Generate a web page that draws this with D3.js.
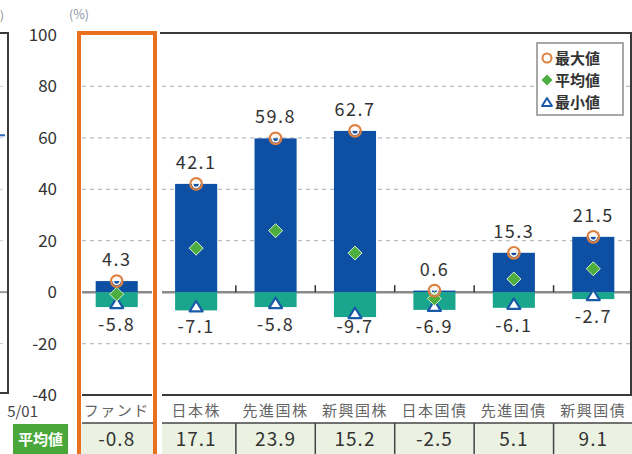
<!DOCTYPE html>
<html><head><meta charset="utf-8">
<script src="https://cdn.jsdelivr.net/npm/d3@7"></script>
<style>
html,body{margin:0;padding:0;background:#fff;}
svg{display:block;font-family:"Noto Sans CJK JP","Noto Sans",sans-serif;}
</style></head>
<body><svg id="c" width="632" height="454"></svg>
<script>
const categories = ["ファンド","日本株","先進国株","新興国株","日本国債","先進国債","新興国債"];
const maxValues = [4.3,42.1,59.8,62.7,0.6,15.3,21.5];
const minValues = [-5.8,-7.1,-5.8,-9.7,-6.9,-6.1,-2.7];
const avgValues = [-0.8,17.1,23.9,15.2,-2.5,5.1,9.1];
const yTicks = [-40,-20,0,20,40,60,80,100];
const gridTicks = [-20,20,40,60,80];
const legendLabels = ["最大値","平均値","最小値"];
const tableLabel = "平均値";
const unitLabel = "(%)";

const svg = d3.select("#c");
const FF = '"Noto Sans CJK JP","Noto Sans",sans-serif';
const C = {blue:"#0c4fa3", teal:"#1aa68c", orange:"#e8701e", maxC:"#dd8040", green:"#4cae3f", tri:"#1a5aa8", frame:"#3a3a3a"};

const y = d3.scaleLinear().domain([-40,100]).range([395,35]);
const x = d3.scaleBand().domain(categories).range([77,633]).paddingInner(0.47).paddingOuter(0.235);
const cx = d => x(d) + x.bandwidth()/2;
const step = x.step();

// left fragment of previous chart
const lf = svg.append("g");
lf.append("path").attr("d","M0,33H8V393H0").attr("fill","none").attr("stroke",C.frame).attr("stroke-width",2);
gridTicks.forEach(t=>lf.append("line").attr("x1",0).attr("x2",6).attr("y1",y(t)).attr("y2",y(t)).attr("stroke","#c8ccd2").attr("stroke-dasharray","3,3"));
lf.append("line").attr("x1",0).attr("x2",7).attr("y1",y(0)).attr("y2",y(0)).attr("stroke","#999").attr("stroke-width",2);
lf.append("line").attr("x1",0).attr("x2",5).attr("y1",y(61)).attr("y2",y(61)).attr("stroke","#2a6ab8").attr("stroke-width",2);
lf.append("text").attr("x",0).attr("y",20).attr("font-size",12).attr("fill","#888").text(")");
lf.append("text").attr("x",38).attr("y",417).attr("text-anchor","end").attr("font-size",15).attr("fill","#444").text("5/01");

// segments: fund column and main area
const segs = [[82,152],[162,631]];

// grid
gridTicks.forEach(t=>segs.forEach(s=>svg.append("line").attr("x1",s[0]).attr("x2",s[1]).attr("y1",y(t)).attr("y2",y(t))
  .attr("stroke","#b9c0c8").attr("stroke-width",1.2).attr("stroke-dasharray","4,4")));

// zero line
segs.forEach(s=>svg.append("line").attr("x1",s[0]).attr("x2",s[1]).attr("y1",y(0)).attr("y2",y(0)).attr("stroke","#8a8a8a").attr("stroke-width",2.5));
// ticks at boundaries
categories.slice(1,-1).forEach(c=>{
  const bx = x(c)+x.bandwidth()/2 + step/2;
  svg.append("line").attr("x1",bx).attr("x2",bx).attr("y1",y(0)-7).attr("y2",y(0)).attr("stroke","#333").attr("stroke-width",1.5);
});

// frame
svg.append("path").attr("d",`M160,33H631V${y(-40)}H162`).attr("fill","none").attr("stroke",C.frame).attr("stroke-width",2);
svg.append("line").attr("x1",82).attr("x2",152).attr("y1",y(-40)).attr("y2",y(-40)).attr("stroke",C.frame).attr("stroke-width",2);

// y axis
const ya = svg.append("g").attr("transform","translate(57,0)")
  .call(d3.axisLeft(y).tickValues(yTicks).tickSize(0).tickPadding(0).tickFormat(d=>String(d)));
ya.select(".domain").remove();
ya.selectAll("text").attr("font-size",17).attr("fill","#333").attr("font-family",FF);
svg.append("text").attr("x",69).attr("y",19).attr("font-size",12.5).attr("fill","#8a96a6").text(unitLabel);

// bars
const g = svg.append("g");
categories.forEach((c,i)=>{
  g.append("rect").attr("x",x(c)).attr("width",x.bandwidth()).attr("y",y(maxValues[i])).attr("height",y(0)-y(maxValues[i])).attr("fill",C.blue);
  g.append("rect").attr("x",x(c)).attr("width",x.bandwidth()).attr("y",y(0)).attr("height",y(minValues[i])-y(0)).attr("fill",C.teal);
});

// markers
function triPath(px,py,s){ return `M${px},${py-s*1.6}L${px+s},${py}L${px-s},${py}Z`; }
function diaPath(px,py,r){ return `M${px},${py-r}L${px+r},${py}L${px},${py+r}L${px-r},${py}Z`; }
categories.forEach((c,i)=>{
  const px = cx(c);
  g.append("path").attr("d",triPath(px,y(minValues[i])+1,6.5)).attr("fill","#fff").attr("stroke",C.tri).attr("stroke-width",2.2).attr("stroke-linejoin","round");
  g.append("path").attr("d",diaPath(px,y(avgValues[i]),7)).attr("fill",C.green).attr("stroke","#d9f0cf").attr("stroke-width",1);
  g.append("circle").attr("cx",px).attr("cy",y(maxValues[i])).attr("r",5.8).attr("fill","none").attr("stroke",C.maxC).attr("stroke-width",2.2);
  g.append("circle").attr("cx",px).attr("cy",y(maxValues[i])).attr("r",3.4).attr("fill","none").attr("stroke","#fff3ea").attr("stroke-width",1.7);
  g.append("text").attr("x",px).attr("y",y(maxValues[i])-15).attr("text-anchor","middle").attr("font-size",18).attr("letter-spacing",1.5).attr("fill","#333").text(maxValues[i].toFixed(1));
  g.append("text").attr("x",px).attr("y",Math.min(y(minValues[i])+24, y(-7.1)+23)).attr("text-anchor","middle").attr("font-size",18).attr("letter-spacing",1.5).attr("fill","#333").text(minValues[i].toFixed(1));
});

// orange highlight
svg.append("rect").attr("x",79).attr("y",33).attr("width",76).attr("height",440).attr("fill","none").attr("stroke",C.orange).attr("stroke-width",4);

// legend
const lg = svg.append("g");
lg.append("rect").attr("x",537).attr("y",43).attr("width",86).attr("height",72).attr("fill","#fff").attr("stroke","#8c8c8c").attr("stroke-width",1.5);
const ly = [58,80,102];
legendLabels.forEach((l,i)=>{
  const px = 547, py = ly[i];
  if(i===0){ lg.append("circle").attr("cx",px).attr("cy",py).attr("r",4.5).attr("fill","#fff").attr("stroke",C.maxC).attr("stroke-width",2); }
  if(i===1){ lg.append("path").attr("d",diaPath(px,py,5.5)).attr("fill",C.green); }
  if(i===2){ lg.append("path").attr("d",triPath(px,py+4,5)).attr("fill","#fff").attr("stroke",C.tri).attr("stroke-width",2).attr("stroke-linejoin","round"); }
  lg.append("text").attr("x",555).attr("y",py+5.5).attr("font-size",15).attr("font-weight",700).attr("fill","#333").text(l);
});

// category labels
categories.forEach(c=>svg.append("text").attr("x",cx(c)).attr("y",416).attr("text-anchor","middle").attr("font-size",15).attr("letter-spacing",1.5).attr("fill","#666").text(c));

// table row
const tTop = 423;
svg.append("rect").attr("x",81).attr("y",tTop).attr("width",72).attr("height",40).attr("fill","#ebf2e2");
svg.append("rect").attr("x",162).attr("y",tTop).attr("width",470).attr("height",40).attr("fill","#ebf2e2");
segs.forEach(s=>svg.append("line").attr("x1",s[0]).attr("x2",s[1]+1).attr("y1",tTop).attr("y2",tTop).attr("stroke","#444").attr("stroke-width",1.5));
categories.slice(1,-1).forEach(c=>{
  const bx = cx(c)+step/2;
  svg.append("line").attr("x1",bx).attr("x2",bx).attr("y1",tTop).attr("y2",454).attr("stroke","#444").attr("stroke-width",1.5);
});
categories.forEach((c,i)=>svg.append("text").attr("x",cx(c)).attr("y",446).attr("text-anchor","middle").attr("font-size",19).attr("letter-spacing",1).attr("fill","#333").text(avgValues[i].toFixed(1)));
svg.append("rect").attr("x",13).attr("y",424).attr("width",55).attr("height",30).attr("fill","#4aa83a");
svg.append("text").attr("x",40.5).attr("y",445).attr("text-anchor","middle").attr("font-size",15).attr("font-weight",700).attr("fill","#fff").text(tableLabel);
</script></body></html>
